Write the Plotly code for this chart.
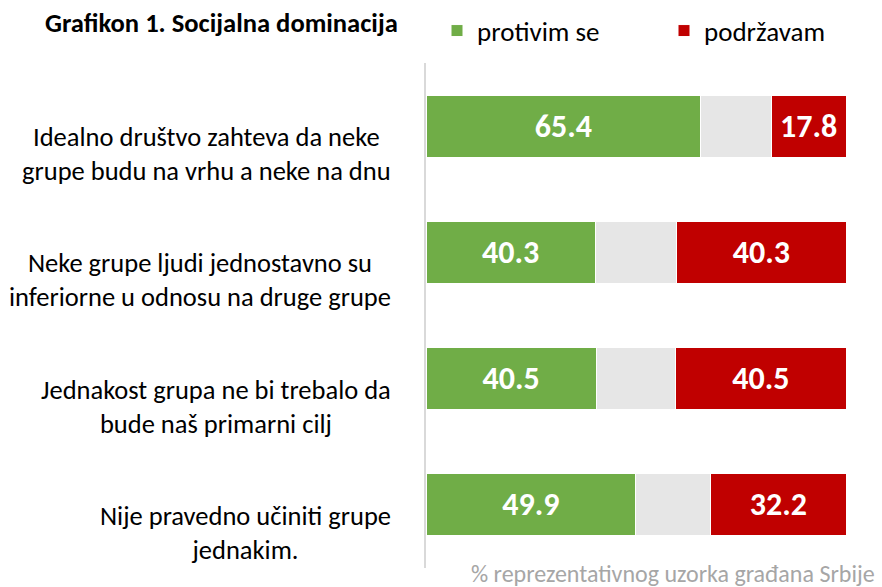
import plotly.graph_objects as go

categories = [
    "Idealno društvo zahteva da neke<br>grupe budu na vrhu a neke na dnu",
    "Neke grupe ljudi jednostavno su<br>inferiorne u odnosu na druge grupe",
    "Jednakost grupa ne bi trebalo da<br>bude naš primarni cilj",
    "Nije pravedno učiniti grupe<br>jednakim.",
]
cat_ids = ["c1", "c2", "c3", "c4"]
protivim = [65.4, 40.3, 40.5, 49.9]
neutral = [16.8, 19.4, 19.0, 17.9]
podrzavam = [17.8, 40.3, 40.5, 32.2]

FONT = "Calibri, Carlito, Lato, sans-serif"
GREEN = "#70ad47"
GRAY = "#e6e6e6"
RED = "#c00000"

W, H = 882, 587
L, R, T, B = 426, 36, 63, 19
PW, PH = W - L - R, H - T - B


def px_x(px):
    return (px - L) / PW


def px_y(py):
    return (H - B - py) / PH


fig = go.Figure()
fig.add_trace(go.Bar(
    y=cat_ids, x=protivim, orientation="h", name="protivim se", legend="legend",
    marker=dict(color=GREEN, line=dict(color="white", width=1)),
    texttemplate="%{x:.1f}", textposition="inside", insidetextanchor="middle",
    textfont=dict(color="white", size=32, family=FONT, weight="bold"),
    constraintext="none", width=0.49,
))
fig.add_trace(go.Bar(
    y=cat_ids, x=neutral, orientation="h", name="neutral", showlegend=False,
    marker=dict(color=GRAY, line=dict(color="white", width=1)),
    hoverinfo="skip", width=0.49,
))
fig.add_trace(go.Bar(
    y=cat_ids, x=podrzavam, orientation="h", name="podržavam", legend="legend2",
    marker=dict(color=RED, line=dict(color="white", width=1)),
    texttemplate="%{x:.1f}", textposition="inside", insidetextanchor="middle",
    textfont=dict(color="white", size=32, family=FONT, weight="bold"),
    constraintext="none", width=0.49,
))

annotations = []
for cid, lab in zip(cat_ids, categories):
    annotations.append(dict(
        xref="paper", yref="y", x=px_x(393), y=cid, text=lab,
        xanchor="right", yanchor="middle", align="center", showarrow=False,
        yshift=-28, font=dict(size=26.5, family=FONT, color="#000000"),
    ))
annotations.append(dict(
    xref="paper", yref="paper", x=px_x(43), y=px_y(23),
    xanchor="left", yanchor="middle",
    text="<b>Grafikon 1. Socijalna dominacija</b>", showarrow=False,
    font=dict(size=26.6, family=FONT, color="#000000"),
))
annotations.append(dict(
    xref="paper", yref="paper", x=px_x(877), y=px_y(573),
    xanchor="right", yanchor="middle",
    text="% reprezentativnog uzorka građana Srbije", showarrow=False,
    font=dict(size=24, family=FONT, color="#a6a6a6"),
))

legend_common = dict(
    orientation="h", yref="container", xref="container", y=1 - 31 / H,
    xanchor="left", yanchor="middle",
    font=dict(size=27, family=FONT, color="#000000"),
    itemwidth=30, bgcolor="rgba(0,0,0,0)",
)

fig.update_layout(
    width=W, height=H,
    margin=dict(l=L, r=R, t=T, b=B, autoexpand=False),
    barmode="stack", bargap=0.5,
    plot_bgcolor="white", paper_bgcolor="white",
    xaxis=dict(range=[0, 100], visible=False, fixedrange=True),
    yaxis=dict(categoryorder="array", categoryarray=cat_ids, autorange="reversed",
               showticklabels=False, showgrid=False, zeroline=False,
               showline=True, linecolor="#d9d9d9", linewidth=1.5),
    showlegend=True,
    legend=dict(x=437 / W, **legend_common),
    legend2=dict(x=664 / W, **legend_common),
    annotations=annotations,
    font=dict(family=FONT),
)

fig.write_html("out.html", config={"displayModeBar": False},
               post_script="document.body.style.margin='0px';")
